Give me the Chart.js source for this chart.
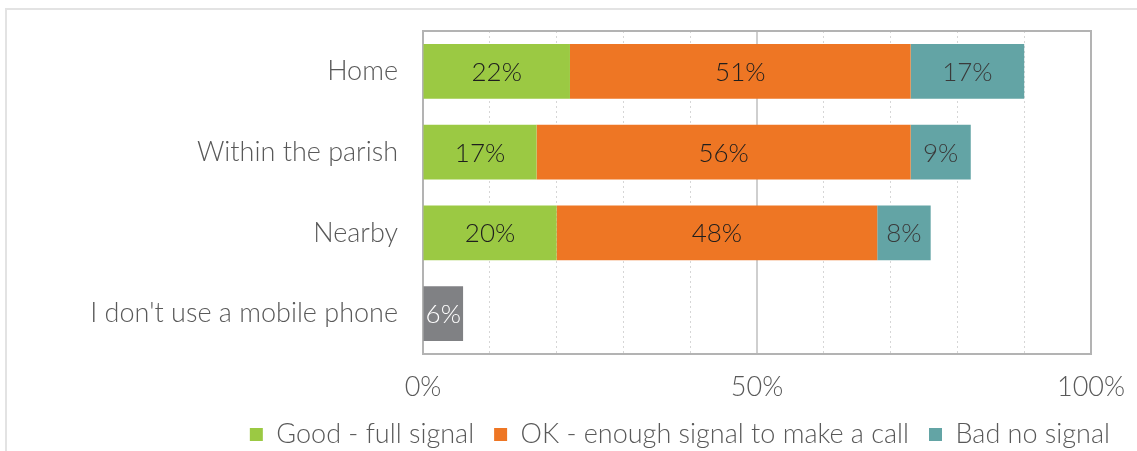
<!DOCTYPE html>
<html lang="en">
<head>
  <meta charset="UTF-8">
  <title>Mobile signal</title>
  <script src="https://cdn.jsdelivr.net/npm/chart.js"></script>
  <style>
    html, body { margin: 0; padding: 0; background: #fff; }
    .wrap { position: relative; width: 1137px; height: 451px; overflow: hidden; }
    .frame { position: absolute; left: 5px; top: 8px; width: 1150px; height: 460px; border: 2px solid #e3e3e3; box-sizing: border-box; }
    canvas { position: absolute; left: 0; top: 0; }
  </style>
</head>
<body>
<div class="wrap">
  <div class="frame"></div>
  <canvas id="chart" width="1137" height="451"></canvas>
</div>
<script>
  const categories = ['Home', 'Within the parish', 'Nearby', "I don't use a mobile phone"];
  const good = [22, 17, 20, null];
  const ok = [51, 56, 48, null];
  const bad = [17, 9, 8, null];
  const noPhone = [null, null, null, 6];
  const tickLabels = [0, 50, 100];

  const font = 'Lato, "Open Sans", sans-serif';

  // value labels in the middle of each bar piece
  const barLabels = {
    id: 'barLabels',
    afterDatasetsDraw(chart) {
      const ctx = chart.ctx;
      ctx.save();
      ctx.font = '300 26px ' + font;
      ctx.textAlign = 'center';
      ctx.textBaseline = 'middle';
      chart.data.datasets.forEach((ds, i) => {
        chart.getDatasetMeta(i).data.forEach((bar, j) => {
          const v = ds.data[j];
          if (v == null) return;
          ctx.fillStyle = ds.labelColor;
          ctx.fillText(v + '%', (bar.x + bar.base) / 2, bar.y + 1);
        });
      });
      ctx.restore();
    }
  };

  // grey box round the plot area
  const plotFrame = {
    id: 'plotFrame',
    beforeDatasetsDraw(chart) {
      const a = chart.chartArea, ctx = chart.ctx;
      ctx.save();
      ctx.strokeStyle = '#b3b3b3';
      ctx.lineWidth = 2;
      ctx.strokeRect(a.left, a.top, a.right - a.left, a.bottom - a.top);
      ctx.restore();
    }
  };

  new Chart(document.getElementById('chart'), {
    type: 'bar',
    data: {
      labels: categories,
      datasets: [
        { label: 'Good - full signal', data: good, backgroundColor: '#9bc943', labelColor: '#1e1e1e' },
        { label: 'OK - enough signal to make a call', data: ok, backgroundColor: '#ee7624', labelColor: '#1e1e1e' },
        { label: 'Bad no signal', data: bad, backgroundColor: '#63a4a5', labelColor: '#3a3a3a' },
        { label: 'No phone', data: noPhone, backgroundColor: '#808184', labelColor: '#ffffff' }
      ]
    },
    options: {
      indexAxis: 'y',
      responsive: false,
      animation: false,
      barPercentage: 0.68,
      categoryPercentage: 1,
      layout: { padding: { left: 0, right: 7, top: 31, bottom: -7 } },
      scales: {
        x: {
          stacked: true,
          min: 0,
          max: 100,
          border: {
            display: false,
            dash: c => (c.tick && c.tick.value === 50) ? [] : [2, 3]
          },
          grid: {
            drawTicks: false,
            color: c => (c.tick && c.tick.value === 50) ? '#cfcfcf' : '#d6d6d6',
            lineWidth: c => (c.tick && c.tick.value === 50) ? 2 : 1
          },
          ticks: {
            stepSize: 10,
            padding: 17,
            autoSkip: false,
            maxRotation: 0,
            minRotation: 0,
            color: '#595959',
            font: { family: font, size: 27, weight: 300 },
            callback: v => tickLabels.includes(v) ? v + '%' : ''
          },
          afterFit(scale) { scale.paddingRight = 46; scale.height = 47; }
        },
        y: {
          stacked: true,
          border: { display: false },
          grid: { display: false, drawTicks: false },
          ticks: {
            padding: 25,
            color: '#595959',
            font: { family: font, size: 27, weight: 300 }
          },
          afterFit(scale) { scale.width = 423; scale.paddingTop = 0; scale.paddingBottom = 0; }
        }
      },
      plugins: {
        tooltip: { enabled: false },
        legend: {
          position: 'bottom',
          align: 'end',
          labels: {
            filter: item => item.datasetIndex < 3,
            boxWidth: 13,
            boxHeight: 13,
            padding: 20,
            color: '#595959',
            font: { family: font, size: 27, weight: 300 }
          }
        }
      }
    },
    plugins: [plotFrame, barLabels]
  });
</script>
</body>
</html>
